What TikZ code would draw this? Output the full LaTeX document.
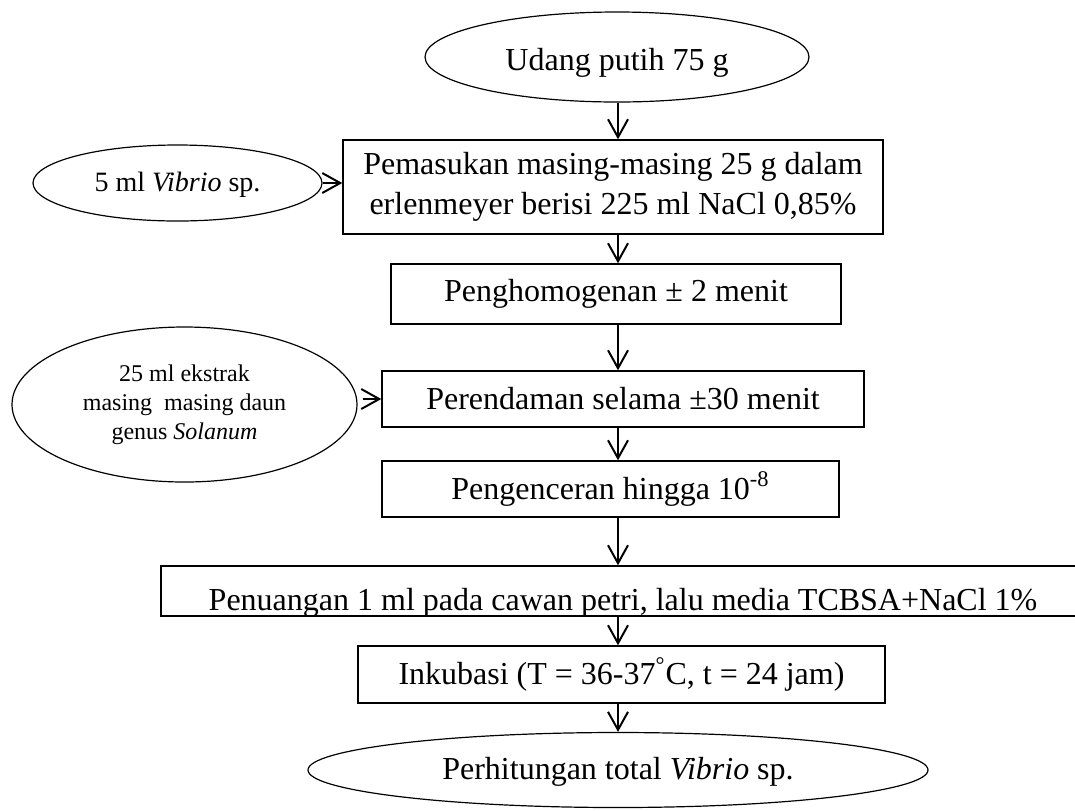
\documentclass[tikz,border=0pt]{standalone}
\usepackage{fontspec}
\setmainfont{Liberation Serif}
\usetikzlibrary{shapes.geometric,arrows.meta}
\begin{document}
\begin{tikzpicture}[x=0.5pt,y=-0.5pt,
  big/.style={font=\fontsize{16}{20}\selectfont},
  box/.style={draw,line width=0.7pt,inner sep=0pt,align=center,big},
  oval/.style={draw,ellipse,line width=0.6pt,inner sep=0pt,align=center},
  arr/.style={line width=1pt,-{Straight Barb[length=9pt,width=10pt,line width=1pt]}}]
\useasboundingbox (0,0) rectangle (1075,810);
\coordinate (axis) at (618,0);
% nodes
\node[oval,big,minimum width=192pt,minimum height=45pt,text height=17pt,text depth=3.5pt] (top) at (617,57) {Udang putih 75 g};
\node[box,minimum width=270pt,minimum height=47pt] (box1) at (613,187) {Pemasukan masing-masing 25 g dalam\\erlenmeyer berisi 225 ml NaCl 0,85\%};
\node[oval,font=\fontsize{14}{17}\selectfont,minimum width=144.5pt,minimum height=38pt,text height=11pt,text depth=3pt] (small) at (177.5,183) {5 ml \textit{Vibrio} sp.};
\node[box,minimum width=225pt,minimum height=30pt] (box2) at (616,294) {Penghomogenan ± 2 menit};
\node[oval,font=\fontsize{12}{14.5}\selectfont,minimum width=172.5pt,minimum height=77.5pt] (ext) at (184.5,404.5) {25 ml ekstrak\\masing\ \ masing daun\\genus \textit{Solanum}};
\node[box,minimum width=241pt,minimum height=28pt] (box3) at (623,399) {Perendaman selama ±30 menit};
\node[box,minimum width=228.5pt,minimum height=28pt] (box4) at (610.5,489) {Pengenceran hingga 10\textsuperscript{-8}};
\node[box,minimum width=462pt,minimum height=25pt] (box5) at (623,591) {};
\begin{scope}
  \clip (box5.south west) rectangle (box5.north east);
  \node[anchor=base,inner sep=0pt,big] (t5) at (623,610) {Penuangan 1 ml pada cawan petri, lalu media TCBSA+NaCl 1\%};
\end{scope}
\node[box,minimum width=263.5pt,minimum height=28.5pt] (box6) at (621.5,674.5) {Inkubasi (T = 36-37\textsuperscript{°}C, t = 24 jam)};
\node[oval,big,minimum width=310pt,minimum height=37.5pt,text height=13pt,text depth=3.5pt] (end) at (618,770) {Perhitungan total \textit{Vibrio} sp.};
% connectors
\draw[arr] (top.south -| axis) -- (box1.north -| axis);
\draw[arr] (small.east) -- (small.east -| box1.west);
\draw[arr] (box1.south -| axis) -- (box2.north -| axis);
\draw[arr] (box2.south -| axis) -- (box3.north -| axis);
\draw[arr,shorten <=2.5pt] (ext.east |- box3.west) -- (box3.west);
\draw[arr] (box3.south -| axis) -- (box4.north -| axis);
\draw[arr] (box4.south -| axis) -- (box5.north -| axis);
\draw[arr] (box5.south -| axis) -- (box6.north -| axis);
\draw[arr] (box6.south -| axis) -- (end.north -| axis);
\end{tikzpicture}
\end{document}
